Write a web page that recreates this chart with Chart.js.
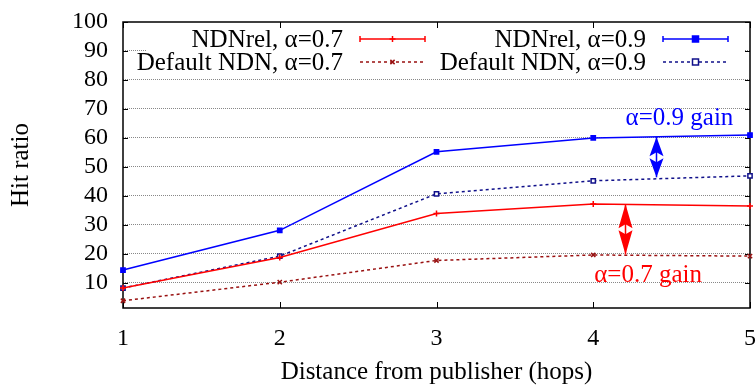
<!DOCTYPE html>
<html>
<head>
<meta charset="utf-8">
<script src="https://cdn.jsdelivr.net/npm/chart.js@4"></script>
<style>
  html, body { margin: 0; padding: 0; background: #fff; }
  #wrap { width: 756px; height: 385px; }
</style>
</head>
<body>
<div id="wrap"><canvas id="hitChart"></canvas></div>
<script>
// hop distance on the x axis
var hops = [1, 2, 3, 4, 5];
// hit ratio (%) per series
var ndnrel07 = [8.2, 18.7, 33.9, 37.2, 36.5];
var default07 = [3.8, 10.2, 17.7, 19.6, 19.2];
var ndnrel09 = [14.4, 28.1, 55.2, 60.0, 61.0];
var default09 = [8.2, 19.2, 40.7, 45.2, 46.9];
var seriesNames = ['NDNrel, α=0.7', 'Default NDN, α=0.7', 'NDNrel, α=0.9', 'Default NDN, α=0.9'];
var yTickValues = [10, 20, 30, 40, 50, 60, 70, 80, 90, 100];
var xTickValues = [1, 2, 3, 4, 5];
// gain arrows: hop position, top value, bottom value, label
var gainArrows = [
    {x: 4.4, top: 60.3, bottom: 46.4, label: 'α=0.9 gain', lx: 4.55, ly: 66.8, color: '#0000ff'},
    {x: 4.2, top: 37.2, bottom: 19.8, label: 'α=0.7 gain', lx: 4.35, ly: 12.5, color: '#ff0000'}
];

var FONT = '"Liberation Serif", "Times New Roman", serif';

function toPoints(vals) {
    return vals.map(function (v, i) { return {x: hops[i], y: v}; });
}

var styles = [
    {color: '#ff0000', dash: [], point: 'cross', fill: '#ff0000', caps: true},
    {color: '#991111', dash: [3, 3], point: 'crossRot', fill: '#991111', caps: false},
    {color: '#0000ff', dash: [], point: 'rect', fill: '#0000ff', caps: true},
    {color: '#10108a', dash: [3, 3], point: 'rect', fill: '#ffffff', caps: false}
];
var seriesData = [ndnrel07, default07, ndnrel09, default09];

var datasets = seriesData.map(function (vals, i) {
    var s = styles[i];
    return {
        label: seriesNames[i],
        data: toPoints(vals),
        borderColor: s.color,
        backgroundColor: s.fill,
        borderWidth: 1.5,
        borderDash: s.dash,
        pointStyle: s.point,
        pointRadius: 3,
        pointBorderColor: s.color,
        pointBackgroundColor: s.fill,
        pointBorderWidth: 1.5,
        tension: 0,
        clip: false
    };
});

// frame, inward tick marks and white legend backdrop
var framePlugin = {
    id: 'frame',
    beforeDatasetsDraw: function (chart) {
        var ctx = chart.ctx, a = chart.chartArea;
        var xs = chart.scales.x, ys = chart.scales.y;
        ctx.save();
        ctx.fillStyle = '#ffffff';
        ctx.fillRect(a.left + 24, a.top + 3, a.right - a.left - 29, 50);
        ctx.setLineDash([]);
        ctx.strokeStyle = '#000';
        ctx.lineWidth = 1.5;
        ctx.strokeRect(a.left, a.top, a.right - a.left, a.bottom - a.top);
        ctx.lineWidth = 1;
        ctx.beginPath();
        yTickValues.forEach(function (v) {
            var py = Math.round(ys.getPixelForValue(v)) + 0.5;
            ctx.moveTo(a.left, py); ctx.lineTo(a.left + 5, py);
            ctx.moveTo(a.right, py); ctx.lineTo(a.right - 5, py);
        });
        xTickValues.forEach(function (v) {
            var px = Math.round(xs.getPixelForValue(v)) + 0.5;
            ctx.moveTo(px, a.bottom); ctx.lineTo(px, a.bottom - 6);
            ctx.moveTo(px, a.top); ctx.lineTo(px, a.top + 6);
        });
        ctx.stroke();
        ctx.restore();
    },
    afterDatasetsDraw: function (chart) {
        var ctx = chart.ctx;
        var xs = chart.scales.x, ys = chart.scales.y;
        ctx.save();
        // legend, two columns
        var cols = [{textRight: 343, x0: 360, x1: 425}, {textRight: 646, x0: 663, x1: 728}];
        var rows = [39, 62];
        ctx.font = '25px ' + FONT;
        ctx.textBaseline = 'middle';
        ctx.textAlign = 'right';
        for (var i = 0; i < 4; i++) {
            var c = cols[i < 2 ? 0 : 1], ry = rows[i % 2], s = styles[i];
            ctx.fillStyle = '#000';
            ctx.fillText(seriesNames[i], c.textRight, ry + 1);
            ctx.strokeStyle = s.color;
            ctx.lineWidth = 1.5;
            ctx.setLineDash(s.dash);
            ctx.beginPath(); ctx.moveTo(c.x0, ry); ctx.lineTo(c.x1, ry); ctx.stroke();
            ctx.setLineDash([]);
            if (s.caps) {
                ctx.beginPath();
                ctx.moveTo(c.x0, ry - 3); ctx.lineTo(c.x0, ry + 3);
                ctx.moveTo(c.x1, ry - 3); ctx.lineTo(c.x1, ry + 3);
                ctx.stroke();
            }
            ctx.fillStyle = s.fill;
            if (s.point === 'rect') {
                ctx.beginPath();
                ctx.rect((c.x0 + c.x1) / 2 - 3, ry - 3, 6, 6);
                ctx.fill(); ctx.stroke();
            } else {
                Chart.helpers.drawPoint(ctx, {
                    pointStyle: s.point, radius: 3, borderWidth: 1.5, rotation: 0
                }, (c.x0 + c.x1) / 2, ry);
            }
        }
        // double arrows with filled notched heads
        gainArrows.forEach(function (g) {
            var px = Math.round(xs.getPixelForValue(g.x)) + 0.5;
            var y1 = ys.getPixelForValue(g.top), y2 = ys.getPixelForValue(g.bottom);
            var mid = (y1 + y2) / 2, hw = 7, notch = 5;
            ctx.fillStyle = g.color;
            ctx.beginPath();
            ctx.moveTo(px, y1); ctx.lineTo(px + hw, mid - 1); ctx.lineTo(px, mid - notch); ctx.lineTo(px - hw, mid - 1);
            ctx.closePath(); ctx.fill();
            ctx.beginPath();
            ctx.moveTo(px, y2); ctx.lineTo(px + hw, mid + 1); ctx.lineTo(px, mid + notch); ctx.lineTo(px - hw, mid + 1);
            ctx.closePath(); ctx.fill();
            ctx.strokeStyle = g.color;
            ctx.lineWidth = 1.5;
            ctx.beginPath(); ctx.moveTo(px, y1); ctx.lineTo(px, y2); ctx.stroke();
            ctx.textAlign = 'center';
            ctx.fillText(g.label, xs.getPixelForValue(g.lx), ys.getPixelForValue(g.ly));
        });
        ctx.restore();
    }
};

new Chart(document.getElementById('hitChart').getContext('2d'), {
    type: 'line',
    data: {datasets: datasets},
    options: {
        responsive: true,
        maintainAspectRatio: false,
        animation: false,
        layout: {padding: {left: 0, right: 6, top: 22, bottom: 0}},
        plugins: {legend: {display: false}, tooltip: {enabled: false}},
        scales: {
            x: {
                type: 'linear',
                min: 1,
                max: 5,
                afterBuildTicks: function (scale) {
                    scale.ticks = xTickValues.map(function (v) { return {value: v}; });
                },
                afterFit: function (scale) {
                    scale.height = 77;
                    scale.paddingLeft = 0;
                    scale.paddingRight = 0;
                },
                grid: {display: false, drawTicks: false},
                border: {display: false},
                ticks: {
                    autoSkip: false,
                    padding: 16,
                    color: '#000',
                    font: {family: FONT, size: 24},
                    maxRotation: 0
                },
                title: {
                    display: true,
                    text: 'Distance from publisher (hops)',
                    color: '#000',
                    font: {family: FONT, size: 25, lineHeight: 1.0},
                    padding: {top: 0, bottom: 0}
                }
            },
            y: {
                min: 1.3,
                max: 100,
                afterBuildTicks: function (scale) {
                    scale.ticks = yTickValues.map(function (v) { return {value: v}; });
                },
                afterFit: function (scale) {
                    scale.width = 123;
                    scale.paddingTop = 0;
                    scale.paddingBottom = 0;
                },
                grid: {
                    drawTicks: false,
                    lineWidth: 1,
                    color: function (c) {
                        return c.tick && c.tick.value < 100 ? '#888888' : 'rgba(0,0,0,0)';
                    }
                },
                border: {display: false, dash: [1, 1]},
                ticks: {
                    autoSkip: false,
                    padding: 15,
                    color: '#000',
                    font: {family: FONT, size: 24}
                },
                title: {
                    display: true,
                    text: 'Hit ratio',
                    color: '#000',
                    font: {family: FONT, size: 25},
                    padding: {top: 6, bottom: 0}
                }
            }
        }
    },
    plugins: [framePlugin]
});
</script>
</body>
</html>
